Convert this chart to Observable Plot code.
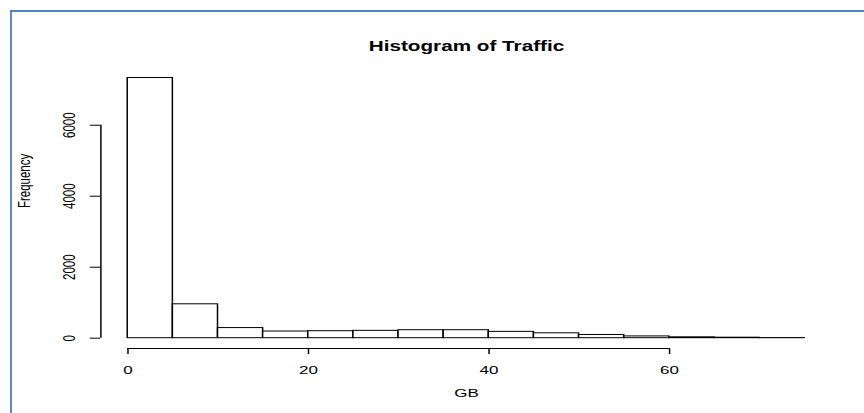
<!DOCTYPE html>
<html>
<head>
<meta charset="utf-8">
<script src="https://cdn.jsdelivr.net/npm/d3@7"></script>
<script src="https://cdn.jsdelivr.net/npm/@observablehq/plot@0.6"></script>
<style>
  html, body { margin: 0; padding: 0; background: #fff; }
  #page { position: relative; width: 864px; height: 413px; overflow: hidden; background: #fff; }
  #chart { position: absolute; left: 0; top: 0; width: 584px; transform-origin: 0 0; }
  #edge { position: absolute; left: 10px; top: 10px; right: 0; bottom: 0;
          border-top: 2px solid #4f81bd; border-left: 2px solid #5a8ac9; pointer-events: none; }
</style>
</head>
<body>
<div id="page">
  <div id="chart"></div>
  <div id="edge"></div>
</div>
<script>
// Histogram bins (GB) and their counts
const binEdges = [0, 5, 10, 15, 20, 25, 30, 35, 40, 45, 50, 55, 60, 65, 70, 75];
const counts = [7330, 955, 285, 188, 197, 207, 225, 225, 178, 138, 90, 50, 25, 14, 4];

// Axis ticks and texts
const xTicks = [0, 20, 40, 60];
const yTicks = [0, 2000, 4000, 6000];
const title = "Histogram of Traffic";
const xLabel = "GB";
const yLabel = "Frequency";

const bins = counts.map((count, i) => ({x0: binEdges[i], x1: binEdges[i + 1], count}));

// R-style axis ranges: the data range padded by 4% on each side
const pad = (lo, hi) => [lo - 0.04 * (hi - lo), hi + 0.04 * (hi - lo)];
const xDomain = pad(binEdges[0], binEdges[binEdges.length - 1]);
const yDomain = pad(0, d3.max(counts));

// The chart is laid out narrow and widened horizontally as a whole
const W = 584, H = 413, stretch = 864 / W;
const font = "'Liberation Sans', Arial, Helvetica, sans-serif";

const chart = Plot.plot({
  width: W,
  height: H,
  marginLeft: 67.7,
  marginRight: 22.1,
  marginTop: 67.1,
  marginBottom: 64.9,
  style: {fontFamily: font, fontSize: "11.5px", background: "white", color: "black"},
  x: {domain: xDomain, axis: null},
  y: {domain: yDomain, axis: null},
  marks: [
    Plot.rect(bins, {x1: "x0", x2: "x1", y1: () => 0, y2: "count",
                     fill: "white", stroke: "black", strokeWidth: 1}),
    // x axis: line from first to last tick, ticks below
    Plot.ruleY([yDomain[0]], {x1: () => xTicks[0], x2: () => xTicks[xTicks.length - 1], stroke: "black"}),
    Plot.axisX(xTicks, {anchor: "bottom", tickSize: 6, tickPadding: 11, label: null, fontSize: 11.5,
                        tickFormat: d => String(d)}),
    // y axis: line from first to last tick, ticks to the left, rotated labels
    Plot.ruleX([xDomain[0]], {y1: () => yTicks[0], y2: () => yTicks[yTicks.length - 1], stroke: "black"}),
    Plot.axisY(yTicks, {anchor: "left", tickSize: 7, label: null, tickFormat: () => ""}),
    Plot.text(yTicks, {x: () => xDomain[0], y: d => d, text: d => String(d), rotate: -90,
                       dx: -21.5, fontSize: 11.5}),
    // axis titles and main title
    Plot.text([xLabel], {text: d => d, frameAnchor: "bottom", dy: 48.2, fontSize: 11.5}),
    Plot.text([yLabel], {text: d => d, frameAnchor: "left", dx: -51.4, rotate: -90, fontSize: 11.5}),
    Plot.text([title], {text: d => d, frameAnchor: "top", dy: -26.6, fontSize: 14, fontWeight: "bold"})
  ]
});

const holder = document.getElementById("chart");
holder.appendChild(chart);
holder.style.transform = `scaleX(${stretch})`;
</script>
</body>
</html>
